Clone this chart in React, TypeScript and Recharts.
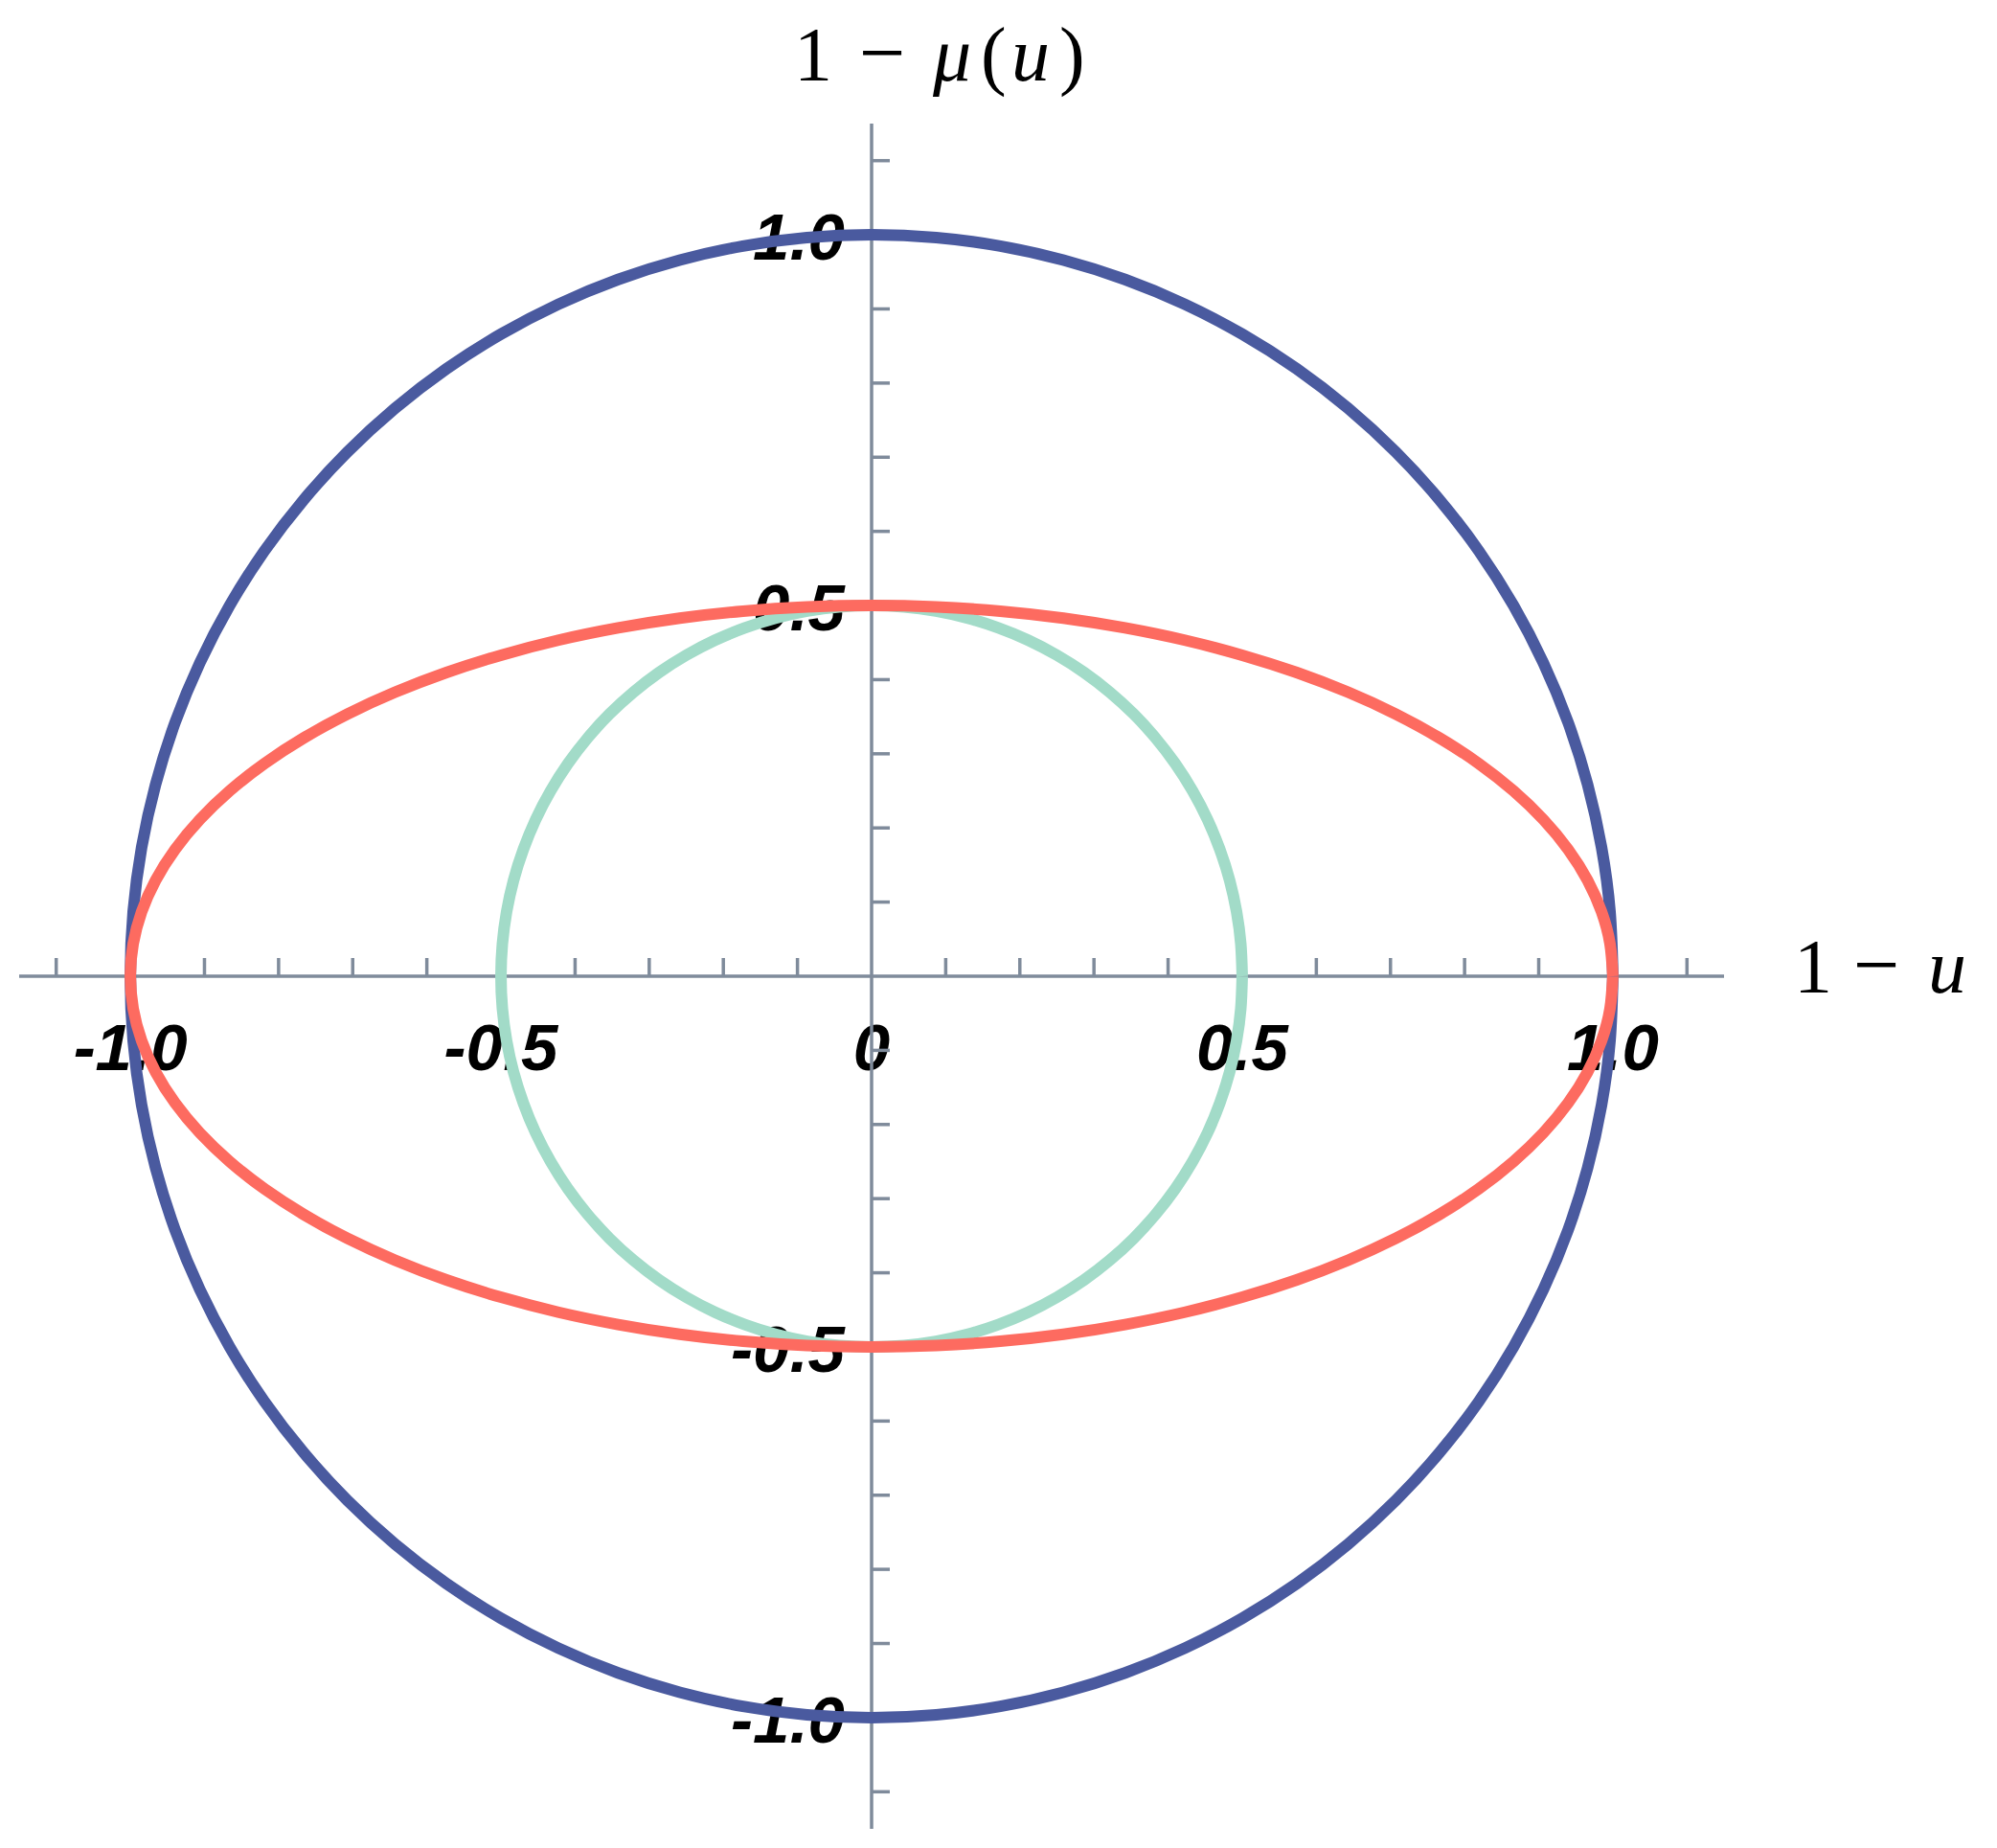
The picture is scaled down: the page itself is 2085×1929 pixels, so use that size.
import React from "react";
import { LineChart, Line, XAxis, YAxis, ReferenceLine, ReferenceDot, Customized } from "recharts";

// Quadrant samples (0°..90° in 5° steps)
const BLUE_X = [1.0, 0.9962, 0.9848, 0.9659, 0.9397, 0.9063, 0.866, 0.8192, 0.766, 0.7071, 0.6428, 0.5736, 0.5, 0.4226, 0.342, 0.2588, 0.1736, 0.0872, 0.0];
const BLUE_Y = [0.0, 0.0872, 0.1736, 0.2588, 0.342, 0.4226, 0.5, 0.5736, 0.6428, 0.7071, 0.766, 0.8192, 0.866, 0.9063, 0.9397, 0.9659, 0.9848, 0.9962, 1.0];
const TEAL_X = [0.5, 0.4981, 0.4924, 0.483, 0.4698, 0.4532, 0.433, 0.4096, 0.383, 0.3536, 0.3214, 0.2868, 0.25, 0.2113, 0.171, 0.1294, 0.0868, 0.0436, 0.0];
const TEAL_Y = [0.0, 0.0436, 0.0868, 0.1294, 0.171, 0.2113, 0.25, 0.2868, 0.3214, 0.3536, 0.383, 0.4096, 0.433, 0.4532, 0.4698, 0.483, 0.4924, 0.4981, 0.5];
const RED_X = [1.0, 0.9962, 0.9848, 0.9659, 0.9397, 0.9063, 0.866, 0.8192, 0.766, 0.7071, 0.6428, 0.5736, 0.5, 0.4226, 0.342, 0.2588, 0.1736, 0.0872, 0.0];
const RED_Y = [0.0, 0.0436, 0.0868, 0.1294, 0.171, 0.2113, 0.25, 0.2868, 0.3214, 0.3536, 0.383, 0.4096, 0.433, 0.4532, 0.4698, 0.483, 0.4924, 0.4981, 0.5];

const AXIS_DOMAIN: [number, number] = [-1.15, 1.15];
const MINOR_TICKS = [-1.1, -1.0, -0.9, -0.8, -0.7, -0.6, -0.5, -0.4, -0.3, -0.2, -0.1, 0.1, 0.2, 0.3, 0.4, 0.5, 0.6, 0.7, 0.8, 0.9, 1.0, 1.1];
const X_LABEL_VALUES = [-1.0, -0.5, 0, 0.5, 1.0];
const X_LABELS = ["-1.0", "-0.5", "0", "0.5", "1.0"];
const Y_LABEL_VALUES = [-1.0, -0.5, 0.5, 1.0];
const Y_LABELS = ["-1.0", "-0.5", "0.5", "1.0"];

function closedLoop(xs: number[], ys: number[]) {
  const n = xs.length - 1;
  const pts: { x: number; y: number }[] = [];
  for (let k = 0; k <= n; k++) pts.push({ x: xs[k], y: ys[k] });
  for (let k = 1; k <= n; k++) pts.push({ x: -xs[n - k], y: ys[n - k] });
  for (let k = 1; k <= n; k++) pts.push({ x: -xs[k], y: -ys[k] });
  for (let k = 1; k <= n; k++) pts.push({ x: xs[n - k], y: -ys[n - k] });
  return pts;
}

const blueData = closedLoop(BLUE_X, BLUE_Y);
const tealData = closedLoop(TEAL_X, TEAL_Y);
const redData = closedLoop(RED_X, RED_Y);

const AXIS_COLOR = "#7f8b9b";
const TICK_LEN = 19;
const LABEL_FONT = "'Liberation Sans', Arial, sans-serif";
const TITLE_FONT = "'Liberation Serif', 'Times New Roman', serif";

const Titles = () => (
  <g fill="#000" fontFamily={TITLE_FONT} fontSize={80}>
    <text x={829} y={84}>
      <tspan x={829}>1</tspan>
      <tspan x={897} fontSize={86}>−</tspan>
      <tspan x={974} fontStyle="italic">μ</tspan>
      <tspan x={1024}>(</tspan>
      <tspan x={1056} fontStyle="italic">u</tspan>
      <tspan x={1106}>)</tspan>
    </text>
    <text x={1873} y={1036}>
      <tspan x={1873}>1</tspan>
      <tspan x={1935} fontSize={86}>−</tspan>
      <tspan x={2013} fontStyle="italic">u</tspan>
    </text>
  </g>
);

export default function App() {
  return (
    <div style={{ position: "absolute", left: 0, top: 0, background: "#fff" }}>
      <LineChart
        width={2085}
        height={1929}
        margin={{ top: 129, right: 285, bottom: 20, left: 20 }}
      >
        <XAxis type="number" dataKey="x" domain={AXIS_DOMAIN} hide allowDataOverflow />
        <YAxis type="number" dataKey="y" domain={AXIS_DOMAIN} hide allowDataOverflow />

        {X_LABEL_VALUES.map((v, i) => (
          <ReferenceDot
            key={"xl" + i}
            x={v}
            y={0}
            r={0}
            ifOverflow="visible"
            zIndex={-30}
            shape={(p: any) => (
              <text
                x={p.cx}
                y={p.cy + 98}
                textAnchor="middle"
                fontFamily={LABEL_FONT}
                fontWeight="bold"
                fontStyle="italic"
                fontSize={69}
                fill="#000"
              >
                {X_LABELS[i]}
              </text>
            )}
          />
        ))}
        {Y_LABEL_VALUES.map((v, i) => (
          <ReferenceDot
            key={"yl" + i}
            x={0}
            y={v}
            r={0}
            ifOverflow="visible"
            zIndex={-30}
            shape={(p: any) => (
              <text
                x={p.cx - 28}
                y={p.cy + 26}
                textAnchor="end"
                fontFamily={LABEL_FONT}
                fontWeight="bold"
                fontStyle="italic"
                fontSize={69}
                fill="#000"
              >
                {Y_LABELS[i]}
              </text>
            )}
          />
        ))}

        <ReferenceLine y={0} stroke={AXIS_COLOR} strokeWidth={3.5} ifOverflow="visible" zIndex={-20} />
        <ReferenceLine x={0} stroke={AXIS_COLOR} strokeWidth={3.5} ifOverflow="visible" zIndex={-20} />

        {MINOR_TICKS.map((v) => (
          <ReferenceDot
            key={"xt" + v}
            x={v}
            y={0}
            r={0}
            ifOverflow="visible"
            zIndex={-10}
            shape={(p: any) => (
              <line x1={p.cx} y1={p.cy} x2={p.cx} y2={p.cy - TICK_LEN} stroke={AXIS_COLOR} strokeWidth={3.5} />
            )}
          />
        ))}
        {MINOR_TICKS.map((v) => (
          <ReferenceDot
            key={"yt" + v}
            x={0}
            y={v}
            r={0}
            ifOverflow="visible"
            zIndex={-10}
            shape={(p: any) => (
              <line x1={p.cx} y1={p.cy} x2={p.cx + TICK_LEN} y2={p.cy} stroke={AXIS_COLOR} strokeWidth={3.5} />
            )}
          />
        ))}

        <Line
          data={blueData}
          dataKey="y"
          type="natural"
          stroke="#4a5a9f"
          strokeWidth={12}
          strokeLinejoin="round"
          dot={false}
          activeDot={false}
          isAnimationActive={false}
          zIndex={400}
        />
        <Line
          data={tealData}
          dataKey="y"
          type="natural"
          stroke="#a2dbc8"
          strokeWidth={12}
          strokeLinejoin="round"
          dot={false}
          activeDot={false}
          isAnimationActive={false}
          zIndex={401}
        />
        <Line
          data={redData}
          dataKey="y"
          type="natural"
          stroke="#fd6b60"
          strokeWidth={12}
          strokeLinejoin="round"
          dot={false}
          activeDot={false}
          isAnimationActive={false}
          zIndex={402}
        />
        <Customized component={Titles} />
      </LineChart>
    </div>
  );
}
